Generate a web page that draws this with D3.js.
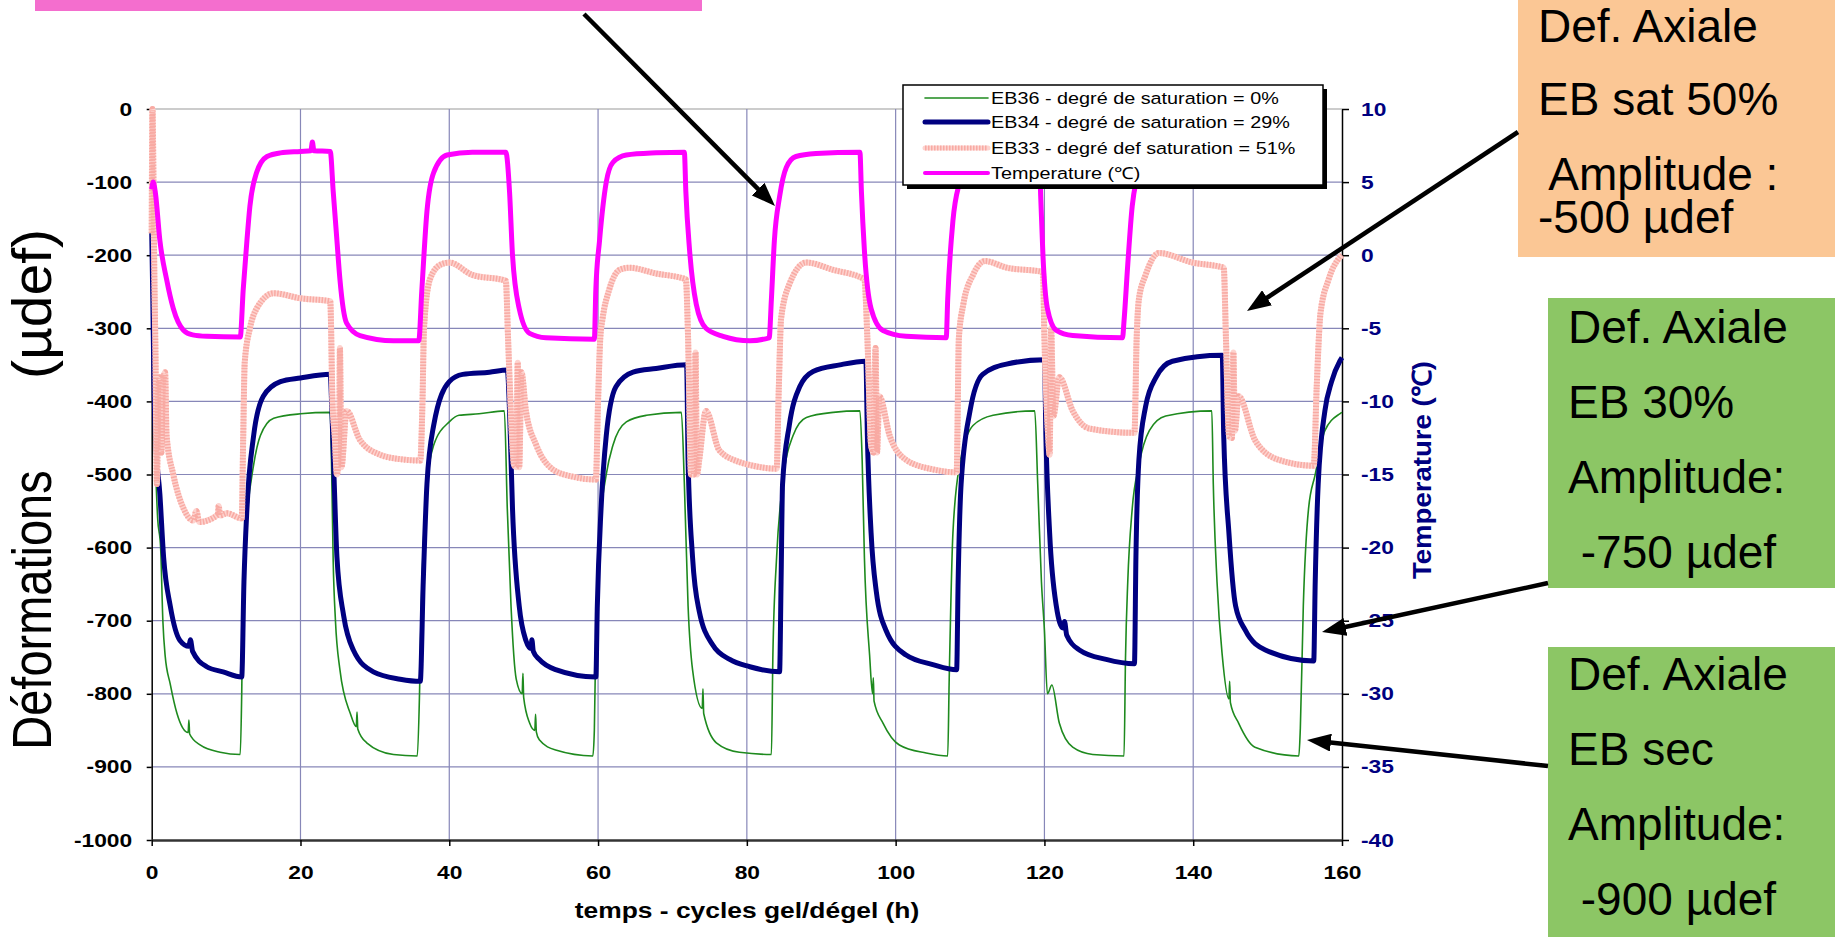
<!DOCTYPE html>
<html><head><meta charset="utf-8">
<script src="https://cdn.jsdelivr.net/npm/d3@7"></script>
<style>
body{margin:0;background:#fff}
svg{display:block}
text{font-family:"Liberation Sans",Arial,Helvetica,sans-serif}
</style>
</head><body>
<svg id="c" width="1835" height="937"></svg>
<script>
// ---------------- data ----------------
const xTicks = [0,20,40,60,80,100,120,140,160];
const leftTicks = [0,-100,-200,-300,-400,-500,-600,-700,-800,-900,-1000];
const rightTicks = [10,5,0,-5,-10,-15,-20,-25,-30,-35,-40];

const legendLabels = [
  "EB36 - degré de saturation = 0%",
  "EB34 - degré de saturation = 29%",
  "EB33 - degré def saturation = 51%",
  "Temperature (℃)"
];

// EB36 (µdef) [time h, value]
const eb36 = [[0.3,-420],[0.8,-560],[1.2,-600],[1.5,-700],[1.8,-747],[2.5,-787],[3.4,-827],[4.9,-853],[5.0,-836],[5.1,-855],[6.5,-870],[9.2,-880],[11.9,-883],
[12.1,-800],[12.3,-647],[12.8,-560],[13.7,-487],[14.6,-447],[16.4,-423],[20,-417],[24,-415],
[24.2,-500],[24.4,-620],[24.7,-700],[25.3,-767],[26.7,-827],[27.5,-845],[27.6,-825],[27.7,-848],[28.9,-867],[32.5,-883],[35.7,-885],
[36,-800],[36.2,-700],[37,-513],[37.9,-460],[40,-428],[41.3,-419],[44,-417],[47.4,-413],
[47.8,-547],[48.3,-680],[49,-780],[49.8,-800],[49.9,-772],[50,-805],[50.8,-840],[51.5,-850],[51.6,-828],[51.7,-852],[52.1,-863],[54.3,-877],[59.3,-885],
[59.5,-850],[59.7,-720],[60.2,-580],[61.1,-500],[62,-460],[63.8,-428],[66.5,-419],[71.2,-415],
[71.6,-513],[72.1,-680],[72.7,-767],[74,-820],[74.1,-793],[74.2,-827],[75.9,-867],[79,-880],[83.3,-883],
[83.5,-747],[84,-613],[84.8,-513],[86.2,-447],[88,-422],[91.6,-415],[95.2,-413],
[95.5,-480],[95.8,-613],[96.5,-747],[96.9,-800],[97,-778],[97.1,-810],[98.3,-840],[100.5,-870],[104.1,-881],[107,-885],
[107.2,-780],[107.7,-580],[108.6,-487],[110.4,-433],[113.1,-419],[118.7,-413],
[119.1,-513],[119.6,-647],[120,-713],[120.4,-800],[121,-788],[122,-840],[123.8,-873],[126.5,-883],[130.7,-885],
[130.9,-750],[131.2,-647],[131.8,-547],[132.7,-487],[134.1,-440],[136.3,-420],[142.5,-413],
[142.7,-513],[143.2,-647],[143.9,-747],[144.8,-807],[144.9,-783],[145,-812],[146.1,-840],[148.3,-873],[154.2,-885],
[154.4,-847],[154.8,-680],[155.5,-547],[156.4,-500],[157.7,-440],[159.7,-417],[160,-415]];

// EB34 (µdef)
const eb34 = [[0,-167],[0.15,-260],[0.3,-373],[0.5,-447],[1.1,-527],[1.6,-613],[2.5,-680],[3.8,-727],[5,-735],[5.2,-726],[5.5,-742],[7.4,-763],[9.6,-770],[12.1,-777],
[12.4,-647],[12.8,-547],[13.7,-447],[15,-393],[17.3,-373],[20,-368],[24,-363],
[24.2,-407],[24.5,-500],[24.9,-613],[25.8,-693],[27.1,-740],[29.8,-770],[33.4,-780],[36.1,-783],
[36.5,-647],[37,-513],[37.9,-433],[40,-373],[41.8,-363],[45.4,-360],[47.8,-357],
[48.1,-413],[48.5,-547],[49.4,-680],[50.3,-727],[51,-738],[51.1,-726],[51.3,-742],[52.1,-753],[54.3,-767],[59.7,-777],
[59.9,-680],[60.4,-547],[61.1,-447],[62.4,-380],[64.7,-360],[67.8,-355],[71.9,-350],
[72.1,-480],[72.7,-613],[73.6,-687],[75.4,-733],[77.7,-753],[80.4,-763],[84.4,-770],
[84.6,-647],[84.8,-513],[85.7,-433],[87.1,-380],[88.9,-359],[92.5,-350],[96,-345],
[96.2,-447],[96.7,-580],[97.4,-660],[98.7,-713],[101.4,-747],[105,-760],[108.2,-767],
[108.4,-647],[108.8,-513],[110,-413],[111.7,-363],[114.9,-349],[120,-343],
[120.2,-447],[120.7,-580],[121.6,-680],[122.5,-710],[122.7,-701],[123,-720],[124.7,-740],[128.3,-753],[132.1,-759],
[132.3,-613],[132.7,-480],[133.6,-407],[135,-367],[137.2,-345],[143.9,-337],
[144.1,-447],[144.8,-580],[145.7,-680],[147,-713],[149.7,-740],[156.2,-755],
[156.4,-647],[156.8,-513],[157.7,-413],[158.6,-373],[159.7,-345],[160,-340]];

// EB33 (µdef)
const eb33 = [[0,-170],[0.1,0],[0.2,-60],[0.3,-180],[0.5,-330],[0.7,-513],[0.9,-380],[1.1,-367],[1.3,-470],[1.5,-380],[1.8,-360],[2,-447],[2.9,-500],[4.3,-547],[5.6,-563],[6,-550],[6.4,-565],[8.9,-555],[9,-543],[9.2,-556],[10.1,-553],[12.1,-560],
[12.3,-450],[12.5,-347],[13.2,-300],[14.1,-273],[16.4,-252],[20,-259],[24,-263],
[24.3,-400],[24.6,-447],[24.9,-500],[25.2,-450],[25.3,-327],[25.5,-490],[26.2,-413],[28,-453],[30.7,-473],[33.4,-479],[36.1,-481],
[36.4,-400],[36.6,-300],[37.4,-233],[38.8,-213],[40,-210],[43.1,-227],[47.6,-235],
[47.9,-313],[48.3,-420],[48.7,-487],[49,-490],[49.2,-347],[49.4,-490],[49.7,-360],[50.3,-413],[51.7,-460],[53.9,-493],[56.6,-503],[59.7,-507],
[60,-400],[60.3,-313],[60.6,-287],[61.5,-247],[62.9,-220],[64.2,-217],[67.8,-225],[71.8,-233],
[72.1,-313],[72.5,-500],[72.9,-500],[73.1,-333],[73.3,-500],[73.6,-480],[74.5,-413],[76.3,-467],[79,-483],[80.4,-487],[84,-492],
[84.3,-380],[84.6,-287],[85.7,-240],[88,-210],[91.6,-220],[95.8,-233],
[96.2,-313],[96.7,-460],[97,-470],[97.3,-327],[97.5,-470],[97.8,-393],[99.2,-447],[101.4,-480],[105,-493],[108.2,-497],
[108.5,-313],[109.1,-267],[110.4,-227],[112,-208],[114.9,-217],[119.8,-223],
[120,-313],[120.5,-447],[120.7,-473],[120.9,-300],[121.2,-420],[122,-367],[123.8,-413],[126,-437],[132.1,-443],
[132.4,-313],[132.7,-260],[133.6,-227],[135.4,-197],[139.9,-210],[144.1,-217],
[144.4,-313],[144.8,-447],[145.2,-450],[145.4,-333],[145.6,-440],[146.1,-393],[148.3,-453],[151.5,-480],[156.2,-488],
[156.6,-380],[157.1,-280],[158.2,-233],[159.7,-203],[160,-200]];

// Temperature (°C)
const temperature = [[0,4.5],[0.2,5],[0.5,4.25],[1.1,1],[2,-1.65],[2.9,-3.65],[4.3,-5.15],[5.5,-5.45],[7.4,-5.55],[11.9,-5.6],
[12.3,-2.35],[12.8,1],[13.2,3.35],[14.1,5.65],[15.5,6.75],[17.3,7],[20,7.1],[21.4,7.15],[21.6,7.75],[21.8,7.15],[24,7.1],
[24.4,4.35],[24.9,1],[25.3,-1.65],[26.2,-4.65],[28,-5.5],[32.5,-5.85],[35.9,-5.85],
[36.3,-2.5],[37,3],[37.9,5.65],[39.7,6.85],[43.1,7.05],[47.6,7.05],
[48.1,4.35],[48.5,0],[49.4,-3.65],[50.8,-5.35],[53,-5.65],[59.5,-5.75],
[59.7,-2.35],[60.2,1],[61.1,5],[62,6.35],[63.8,6.85],[67.8,7],[71.6,7.05],
[71.8,4.35],[72.3,0.35],[73.2,-3.35],[74.5,-5],[76.8,-5.55],[80.4,-5.85],[83,-5.65],
[83.3,-3],[83.7,1],[84.4,4],[85.3,6],[86.6,6.75],[89.3,6.95],[95.2,7.05],
[95.4,4.35],[95.8,0.35],[96.7,-3.65],[98.3,-5.15],[101.4,-5.55],[106.8,-5.65],
[107,-3],[107.7,2.35],[108.6,5],[110,6.5],[112,6.9],[119.3,7.05],
[119.5,4],[119.8,0],[120.4,-3.65],[121.6,-5.15],[123.8,-5.5],[130.5,-5.65],
[130.7,-4.5],[131.2,-0.65],[131.8,3.35],[132.3,5],[133.5,6.5],[136,6.9],[141,7.05]];

// annotation boxes text
const notes = [
  {fill:"#fbc795", lines:["Def. Axiale","EB sat 50%"," Amplitude :","-500 µdef"]},
  {fill:"#8cc665", lines:["Def. Axiale","EB 30%","Amplitude:"," -750 µdef"]},
  {fill:"#8cc665", lines:["Def. Axiale","EB sec","Amplitude:"," -900 µdef"]}
];

// ---------------- drawing ----------------
const svg = d3.select("#c");
const L = 151.7, R = 1342, T = 109, B = 840;
const x = d3.scaleLinear().domain([0,160]).range([L,R]);
const yL = d3.scaleLinear().domain([-1000,0]).range([B,T]);
const yR = d3.scaleLinear().domain([-40,10]).range([B,T]);
const SX = 1.2;
const fmt = d => String(d);

const gridCol = "#8787b8";
svg.append("g").selectAll("line").data(leftTicks.filter(d=>d>-1000)).join("line")
  .attr("x1",L).attr("x2",R).attr("y1",d=>yL(d)).attr("y2",d=>yL(d))
  .attr("stroke", d=> d===0 ? "#9a9a9a" : gridCol).attr("stroke-width",1.2);
svg.append("g").selectAll("line").data(xTicks.filter(d=>d>0 && d<160)).join("line")
  .attr("x1",d=>x(d)).attr("x2",d=>x(d)).attr("y1",T).attr("y2",B)
  .attr("stroke",gridCol).attr("stroke-width",1.2);

// axes
const gL = svg.append("g").attr("transform",`translate(${L},0)`)
  .call(d3.axisLeft(yL).tickValues(leftTicks).tickFormat(fmt).tickSize(5).tickSizeOuter(0));
gL.selectAll("text").attr("x",-19.5/SX).attr("transform",`scale(${SX},1)`)
  .attr("font-size",19).attr("font-weight","bold").attr("fill","#000").attr("font-family","Liberation Sans, Arial, sans-serif");
const gR = svg.append("g").attr("transform",`translate(${R},0)`)
  .call(d3.axisRight(yR).tickValues(rightTicks).tickFormat(fmt).tickSize(7).tickSizeOuter(0));
gR.selectAll("text").attr("x",19/SX).attr("transform",`scale(${SX},1)`)
  .attr("font-size",19).attr("font-weight","bold").attr("fill","#000080").attr("font-family","Liberation Sans, Arial, sans-serif");
const gB = svg.append("g").attr("transform",`translate(0,${B})`)
  .call(d3.axisBottom(x).tickValues(xTicks).tickFormat(fmt).tickSize(6).tickSizeOuter(0));
gB.selectAll("text").attr("y",26).attr("transform",`scale(${SX},1)`)
  .attr("font-size",19).attr("font-weight","bold").attr("fill","#000").attr("font-family","Liberation Sans, Arial, sans-serif");
[gL,gR,gB].forEach(g=>{g.selectAll("line,path").attr("stroke","#000").attr("stroke-width",1.5);});
gB.select("path").attr("stroke","#333").attr("stroke-width",2.5);

// series
const lineL = d3.line().curve(d3.curveMonotoneX).x(d=>x(d[0])).y(d=>yL(d[1]));
const lineR = d3.line().curve(d3.curveMonotoneX).x(d=>x(d[0])).y(d=>yR(d[1]));
const plot = svg.append("g");
plot.append("path").datum(eb36).attr("d",lineL).attr("fill","none").attr("stroke","#1e8a1e").attr("stroke-width",1.6).attr("stroke-linejoin","round");
plot.append("path").datum(eb34).attr("d",lineL).attr("fill","none").attr("stroke","#000080").attr("stroke-width",5).attr("stroke-linejoin","round");
plot.append("path").datum(eb33).attr("d",lineL).attr("fill","none").attr("stroke","#fdd3cf").attr("stroke-width",6).attr("stroke-linejoin","round");
plot.append("path").datum(eb33).attr("d",lineL).attr("fill","none").attr("stroke","#f8aaa3").attr("stroke-width",6).attr("stroke-dasharray","1.5 1.5");
plot.append("path").datum(temperature).attr("d",lineR).attr("fill","none").attr("stroke","#ff00ff").attr("stroke-width",5).attr("stroke-linejoin","round");

// legend
const lg = svg.append("g");
lg.append("rect").attr("x",907).attr("y",89).attr("width",420).attr("height",100).attr("fill","#000");
lg.append("rect").attr("x",903).attr("y",85).attr("width",420).attr("height",100).attr("fill","#fff").attr("stroke","#000").attr("stroke-width",1.5);
const lgY = [98,122,148,173];
const sw = [
  {c:"#1e8a1e",w:1.6},{c:"#000080",w:5},{c:"#fdd3cf",w:5,over:"#f8aaa3"},{c:"#ff00ff",w:4}
];
legendLabels.forEach((lab,i)=>{
  lg.append("line").attr("x1",925).attr("x2",988).attr("y1",lgY[i]).attr("y2",lgY[i])
    .attr("stroke",sw[i].c).attr("stroke-width",sw[i].w).attr("stroke-linecap","round");
  if(sw[i].over) lg.append("line").attr("x1",925).attr("x2",988).attr("y1",lgY[i]).attr("y2",lgY[i])
    .attr("stroke",sw[i].over).attr("stroke-width",sw[i].w).attr("stroke-dasharray","1.5 1.5");
  lg.append("text").attr("transform",`translate(991,${lgY[i]+6}) scale(${SX},1)`)
    .attr("font-size",16.5).attr("fill","#000").text(lab);
});

// axis titles
svg.append("text").attr("transform",`translate(${747},${918}) scale(${SX},1)`)
  .attr("text-anchor","middle").attr("font-size",22).attr("font-weight","bold").text("temps - cycles gel/dégel (h)");
svg.append("text").attr("transform",`translate(51,610) scale(${SX},1) rotate(-90)`)
  .attr("text-anchor","middle").attr("font-size",47).text("Déformations");
svg.append("text").attr("transform",`translate(51,304) scale(${SX},1) rotate(-90)`)
  .attr("text-anchor","middle").attr("font-size",47).attr("textLength",150).attr("lengthAdjust","spacingAndGlyphs").text("(µdef)");
svg.append("text").attr("transform",`translate(1431,470) scale(${SX},1) rotate(-90)`)
  .attr("text-anchor","middle").attr("font-size",22).attr("font-weight","bold").attr("fill","#000080")
  .attr("textLength",218).attr("lengthAdjust","spacingAndGlyphs").text("Temperature (℃)");

// annotation boxes
svg.append("rect").attr("x",35).attr("y",0).attr("width",667).attr("height",11).attr("fill","#f46ece");
const boxes = [
  {x:1518,y:0,w:317,h:257,tx:1538,base:[42,115,190,233]},
  {x:1548,y:298,w:287,h:290,tx:1568,base:[343,418,493,568]},
  {x:1548,y:647,w:287,h:290,tx:1568,base:[690,765,840,915]}
];
boxes.forEach((b,i)=>{
  svg.append("rect").attr("x",b.x).attr("y",b.y).attr("width",b.w).attr("height",b.h).attr("fill",notes[i].fill);
  notes[i].lines.forEach((ln,j)=>{
    svg.append("text").attr("x",b.tx).attr("y",b.base[j]).attr("font-size",46).attr("fill","#000")
      .style("white-space","pre").text(ln);
  });
});

// arrows
const defs = svg.append("defs");
defs.append("marker").attr("id","ah").attr("viewBox","0 0 24 18").attr("refX",12).attr("refY",9)
  .attr("markerWidth",24).attr("markerHeight",18).attr("markerUnits","userSpaceOnUse").attr("orient","auto")
  .append("path").attr("d","M0,0 L24,9 L0,18 Z").attr("fill","#000");
const arrows = [[584,14,775,206],[1518,132,1247,311],[1548,583,1322,632],[1548,766,1307,740]];
arrows.forEach(a=>{
  const dx=a[2]-a[0], dy=a[3]-a[1], len=Math.hypot(dx,dy);
  const ex=a[2]-dx/len*12, ey=a[3]-dy/len*12;
  svg.append("line").attr("x1",a[0]).attr("y1",a[1]).attr("x2",ex).attr("y2",ey)
    .attr("stroke","#000").attr("stroke-width",4.5).attr("marker-end","url(#ah)");
});
</script>
</body></html>
